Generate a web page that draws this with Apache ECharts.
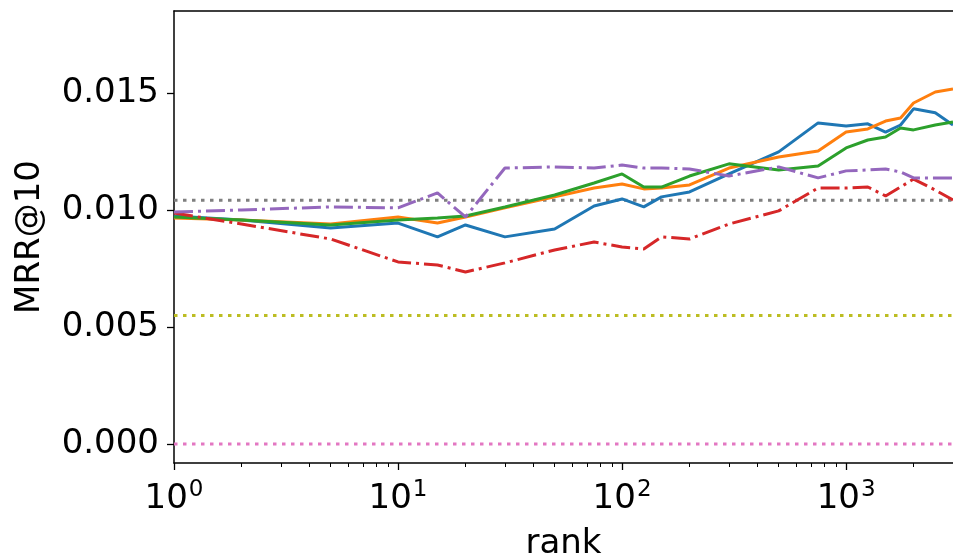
<!DOCTYPE html>
<html><head><meta charset="utf-8">
<script src="https://cdn.jsdelivr.net/npm/echarts@6/dist/echarts.min.js"></script>
<style>html,body{margin:0;padding:0;background:#fff}#c{width:953px;height:557px}</style>
</head><body><div id="c"></div>
<script>
const ranks = [1,2,5,10,15,20,30,50,75,100,125,150,200,300,500,750,1000,1250,1500,1750,2000,2500,3000];
const blueVals   = [0.00974,0.00957,0.00923,0.00944,0.00885,0.00936,0.00885,0.00919,0.01017,0.01047,0.01013,0.01056,0.01077,0.01154,0.01248,0.01372,0.01359,0.01368,0.01333,0.01363,0.01432,0.01415,0.01363];
const orangeVals = [0.00966,0.00957,0.00940,0.00970,0.00944,0.00970,0.01009,0.01056,0.01094,0.01111,0.01090,0.01094,0.01107,0.01179,0.01226,0.01252,0.01333,0.01346,0.01380,0.01393,0.01457,0.01504,0.01517];
const greenVals  = [0.00970,0.00957,0.00936,0.00957,0.00966,0.00974,0.01013,0.01064,0.01115,0.01154,0.01098,0.01098,0.01145,0.01197,0.01171,0.01188,0.01265,0.01299,0.01312,0.01350,0.01342,0.01363,0.01376];
const redVals    = [0.00987,0.00940,0.00876,0.00778,0.00765,0.00735,0.00774,0.00829,0.00863,0.00842,0.00833,0.00885,0.00876,0.00940,0.00996,0.01094,0.01094,0.01098,0.01060,0.01098,0.01132,0.01085,0.01043];
const purpleVals = [0.00991,0.01000,0.01013,0.01009,0.01073,0.00970,0.01179,0.01184,0.01179,0.01192,0.01179,0.01179,0.01175,0.01145,0.01184,0.01137,0.01167,0.01171,0.01175,0.01162,0.01137,0.01137,0.01137];
const grayLevel = 0.01041;
const oliveLevel = 0.00549;
const pinkLevel = 0.0;
const xMajorTicks = [1,10,100,1000];
const xMinorTicks = [2,3,4,5,6,7,8,9,20,30,40,50,60,70,80,90,200,300,400,500,600,700,800,900,2000,3000];
const yTicks = [0, 0.005, 0.010, 0.015];
const xRange = [1, 3000];

const pair = (xs, ys) => xs.map((x, i) => [x, ys[i]]);
const flat = v => [[xRange[0], v], [xRange[1], v]];

const font = 'DejaVu Sans';
const dashDot = [19, 5, 3, 5];
const dotted = [3.5, 5.5];

const chart = echarts.init(document.getElementById('c'), null, {renderer: 'canvas'});
chart.setOption({
  animation: false,
  grid: {left: 174, top: 11, right: 0, bottom: 94, containLabel: false, outerBoundsMode: 'none'},
  xAxis: [
    {type: 'log', logBase: 10, min: xRange[0], max: xRange[1],
     name: 'rank', nameLocation: 'middle', nameGap: 64,
     nameTextStyle: {fontFamily: font, fontSize: 34, color: '#000'},
     axisLine: {onZero: false, lineStyle: {color: '#000', width: 1.5}},
     axisTick: {show: true, length: 7, lineStyle: {color: '#000', width: 1.3}, customValues: xMajorTicks},
     axisLabel: {customValues: xMajorTicks, margin: 16, color: '#000',
       formatter: v => '{b|10}{s|' + Math.round(Math.log10(v)) + '}',
       rich: {b: {fontFamily: font, fontSize: 34, color: '#000'},
              s: {fontFamily: font, fontSize: 23, color: '#000', padding: [0,0,17,1]}}},
     splitLine: {show: false}, minorTick: {show: false}},
    {type: 'log', logBase: 10, min: xRange[0], max: xRange[1], position: 'bottom',
     axisLine: {show: false, onZero: false},
     axisTick: {show: true, length: 4, lineStyle: {color: '#000', width: 1}, customValues: xMinorTicks},
     axisLabel: {show: false}, splitLine: {show: false}},
    {type: 'value', position: 'top', min: 0, max: 1,
     axisLine: {show: true, onZero: false, lineStyle: {color: '#000', width: 1.5}},
     axisTick: {show: false}, axisLabel: {show: false}, splitLine: {show: false}}
  ],
  yAxis: {type: 'value', min: -0.00081, max: 0.0185,
     name: 'MRR@10', nameLocation: 'middle', nameGap: 127, nameRotate: 90,
     nameTextStyle: {fontFamily: font, fontSize: 34, color: '#000'},
     axisLine: {show: true, onZero: false, lineStyle: {color: '#000', width: 1.5}},
     axisTick: {show: true, length: 7, lineStyle: {color: '#000', width: 1.3}, customValues: yTicks},
     axisLabel: {customValues: yTicks, margin: 15, fontFamily: font, fontSize: 34, color: '#000',
       formatter: v => v.toFixed(3)},
     splitLine: {show: false}},
  series: [
    {type: 'line', data: flat(grayLevel), symbol: 'none', lineStyle: {color: '#7f7f7f', width: 3, type: dotted}},
    {type: 'line', data: flat(oliveLevel), symbol: 'none', lineStyle: {color: '#bcbd22', width: 3, type: dotted}},
    {type: 'line', data: flat(pinkLevel), symbol: 'none', lineStyle: {color: '#e377c2', width: 3, type: dotted}},
    {type: 'line', data: pair(ranks, blueVals), symbol: 'none', lineStyle: {color: '#1f77b4', width: 3}},
    {type: 'line', data: pair(ranks, orangeVals), symbol: 'none', lineStyle: {color: '#ff7f0e', width: 3}},
    {type: 'line', data: pair(ranks, greenVals), symbol: 'none', lineStyle: {color: '#2ca02c', width: 3}},
    {type: 'line', data: pair(ranks, redVals), symbol: 'none', lineStyle: {color: '#d62728', width: 3, type: dashDot}},
    {type: 'line', data: pair(ranks, purpleVals), symbol: 'none', lineStyle: {color: '#9467bd', width: 3, type: dashDot}}
  ]
});
</script></body></html>
